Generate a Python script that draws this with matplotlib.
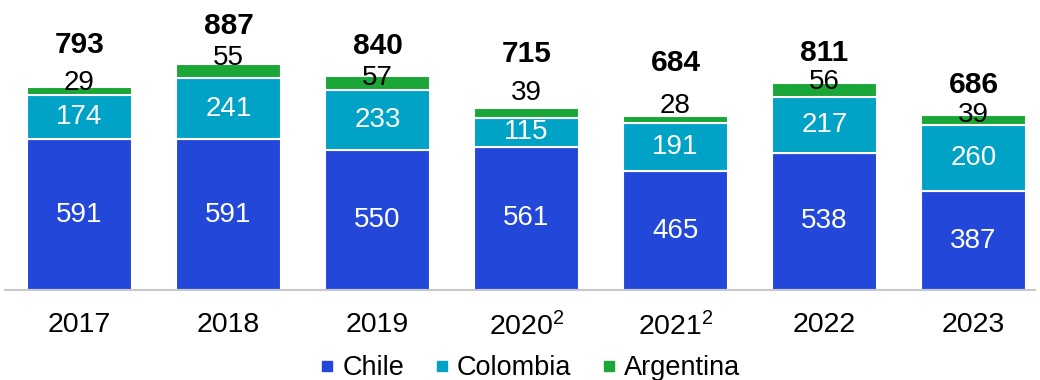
import matplotlib
matplotlib.use("Agg")
import matplotlib.pyplot as plt
from matplotlib.lines import Line2D
import numpy as np

plt.rcParams['font.family'] = ['Liberation Sans', 'DejaVu Sans']
plt.rcParams['mathtext.fontset'] = 'custom'
plt.rcParams['mathtext.rm'] = 'Liberation Sans'
plt.rcParams['mathtext.it'] = 'Liberation Sans'

years = ['2017', '2018', '2019', '2020$^{2}$', '2021$^{2}$', '2022', '2023']
chile = [591, 591, 550, 561, 465, 538, 387]
colombia = [174, 241, 233, 115, 191, 217, 260]
argentina = [29, 55, 57, 39, 28, 56, 39]
totals = [793, 887, 840, 715, 684, 811, 686]

# label offsets (pixels) above stack top
arg_up = [4, 6, -2, 15, 10, 1, 0]
tot_up = [42, 38, 30, 54, 53, 30, 30]

c_chile = '#2347d9'
c_col = '#00a2c6'
c_arg = '#1ba638'

fig = plt.figure(figsize=(10.4, 3.8), dpi=100)
ax = fig.add_axes([5/1040, 90/380, 1030/1040, 290/380])

x = np.arange(len(years))
w = 0.70
kw = dict(width=w, edgecolor='white', linewidth=1.5)
ax.bar(x, chile, color=c_chile, **kw)
ax.bar(x, colombia, bottom=chile, color=c_col, **kw)
b2 = np.array(chile) + np.array(colombia)
ax.bar(x, argentina, bottom=b2, color=c_arg, **kw)
top = b2 + np.array(argentina)

for i in range(len(x)):
    ax.text(x[i], chile[i] / 2, str(chile[i]), ha='center', va='center',
            color='white', fontsize=20)
    ax.text(x[i], chile[i] + colombia[i] / 2, str(colombia[i]), ha='center',
            va='center', color='white', fontsize=20)
    ax.annotate(str(argentina[i]), (x[i], top[i]), xytext=(0, arg_up[i]),
                textcoords='offset pixels', ha='center', va='center',
                fontsize=20, color='black')
    ax.annotate(str(totals[i]), (x[i], top[i]), xytext=(0, tot_up[i]),
                textcoords='offset pixels', ha='center', va='center',
                fontsize=21.5, fontweight='bold', color='black')

ax.set_xlim(-0.5, 6.413)
ax.set_ylim(0, 1137)
for s in ['top', 'right', 'left']:
    ax.spines[s].set_visible(False)
ax.spines['bottom'].set_color('#c8c8c8')
ax.spines['bottom'].set_linewidth(1.5)
ax.set_yticks([])
ax.set_xticks(x)
ax.set_xticklabels(years, fontsize=20.5)
ax.tick_params(axis='x', length=0, pad=16)

handles = [Line2D([], [], marker='s', linestyle='none', markersize=7.5,
                  color=c, label=l)
           for c, l in [(c_chile, 'Chile'), (c_col, 'Colombia'), (c_arg, 'Argentina')]]
fig.legend(handles=handles, loc='center', bbox_to_anchor=(530/1040, 1 - 368/380),
           ncol=3, frameon=False, fontsize=19.5, handletextpad=0.25,
           columnspacing=1.1, handlelength=0.6, borderpad=0)

fig.savefig('out.png', dpi=100)
